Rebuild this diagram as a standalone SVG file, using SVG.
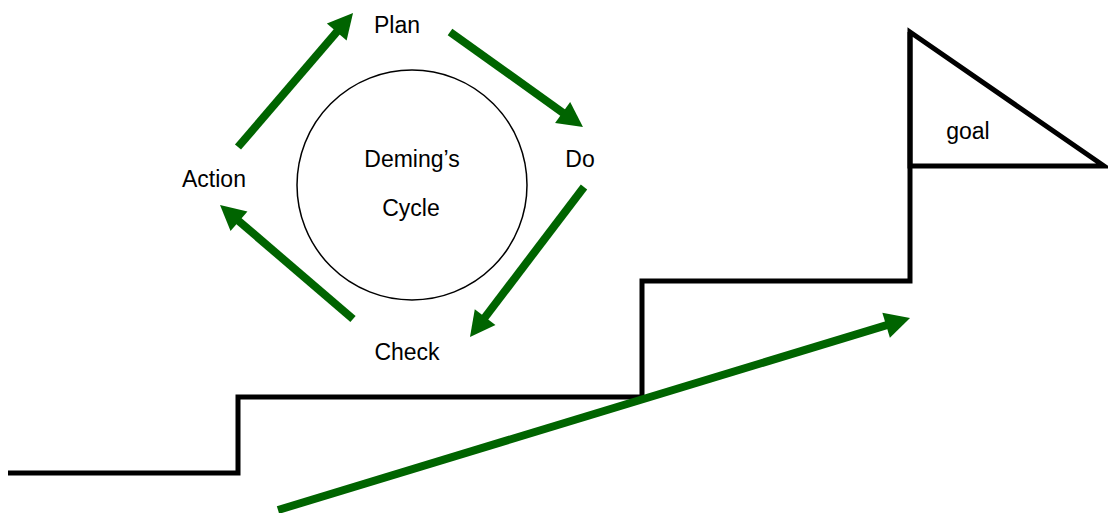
<svg xmlns="http://www.w3.org/2000/svg" width="1108" height="513" viewBox="0 0 1108 513">
<style>
.lbl{font-family:"Liberation Sans",Arial,sans-serif;font-size:23px;fill:#000;text-anchor:middle}
.arr{stroke:#006400;stroke-width:8;fill:none;marker-end:url(#ah)}
.blk{stroke:#000;stroke-width:5;fill:none;stroke-linejoin:miter}
</style>
<defs>
<marker id="ah" markerUnits="userSpaceOnUse" markerWidth="30" markerHeight="30" viewBox="0 0 30 30" refX="5" refY="15" orient="auto" overflow="visible">
<path d="M0,2 L25,15 L0,28 z" fill="#006400"/>
</marker>
</defs>
<rect width="1108" height="513" fill="#fff"/>
<g id="stairs">
<polyline class="blk" points="8,473 238,473 238,397 642,397 642,281 910,281 910,32"/>
</g>
<g id="flag">
<polygon class="blk" points="910,32 1104,166 910,166"/>
<text class="lbl" x="968" y="139">goal</text>
</g>
<g id="cycle">
<circle cx="412" cy="185" r="115" fill="#fff" stroke="#000" stroke-width="1.5"/>
<text class="lbl" x="412" y="167">Deming’s</text>
<text class="lbl" x="411" y="216">Cycle</text>
</g>
<g id="plan"><text class="lbl" x="397" y="33">Plan</text></g>
<g id="do"><text class="lbl" x="580" y="167">Do</text></g>
<g id="check"><text class="lbl" x="407" y="360">Check</text></g>
<g id="action"><text class="lbl" x="214" y="187">Action</text></g>
<g id="connectors">
<line class="arr" x1="238" y1="147" x2="340" y2="28.2"/>
<line class="arr" x1="450" y1="32" x2="566.7" y2="115.4"/>
<line class="arr" x1="584" y1="187" x2="482.1" y2="321.1"/>
<line class="arr" x1="353" y1="319" x2="235.2" y2="218"/>
<line class="arr" x1="278" y1="510" x2="890.9" y2="323.8"/>
</g>
</svg>
